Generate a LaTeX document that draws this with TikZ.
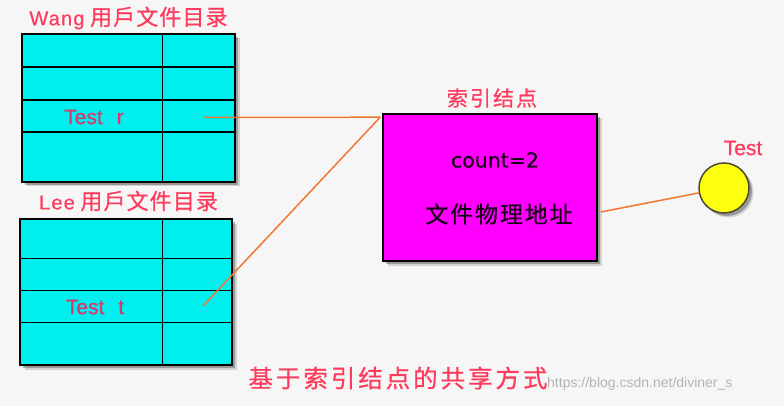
\documentclass[tikz,border=0pt]{standalone}
\usepackage{fontspec}
\setmainfont[FakeBold=0.5]{Liberation Sans}
\newfontfamily\cjk[FakeBold=0.6]{Noto Sans CJK SC}
\newfontfamily\labfont[LetterSpace=6,FakeBold=0.5]{Liberation Sans}
\newfontfamily\cntfont[FakeBold=0.4]{DejaVu Sans}
\usetikzlibrary{shadows,calc}
\definecolor{bg}{HTML}{F6F6F6}
\definecolor{cyanbox}{HTML}{00F0F0}
\definecolor{magbox}{HTML}{FF00FF}
\definecolor{ball}{HTML}{FFFF10}
\definecolor{lbl}{HTML}{FF3A5C}
\definecolor{celltxt}{HTML}{D03C6E}
\definecolor{wire}{HTML}{F07830}
\definecolor{wm}{HTML}{B4B4B4}
\begin{document}
\begin{tikzpicture}[x=1pt,y=-1pt,
  boxshadow/.style={
    drop shadow={shadow xshift=4.5pt,shadow yshift=-4.5pt,opacity=0.15,fill=black},
    drop shadow={shadow xshift=3pt,shadow yshift=-3pt,opacity=0.35,fill=black!80}},
  tablebox/.style={draw=black,line width=1.6pt,fill=cyanbox,inner sep=0pt,boxshadow},
  gridline/.style={draw=black,line width=1.4pt},
  lbltext/.style={text=lbl,inner sep=0pt,font=\fontsize{20}{20}\selectfont},
  celltext/.style={text=celltxt,inner sep=0pt,font=\fontsize{21}{21}\selectfont},
  wireline/.style={draw=wire,line width=1.5pt}
]
\useasboundingbox (0,0) rectangle (784,406);
\fill[bg] (0,0) rectangle (784,406);

% Wang table
\node[tablebox,minimum width=213pt,minimum height=148pt] (wang) at (128.5,108) {};
\draw[gridline] ($(wang.north west)+(141,0)$) -- ($(wang.south west)+(141,0)$);
\draw[gridline] ($(wang.north west)+(0,34)$) -- ($(wang.north east)+(0,34)$);
\draw[gridline] ($(wang.north west)+(0,67)$) -- ($(wang.north east)+(0,67)$);
\draw[gridline] ($(wang.north west)+(0,99)$) -- ($(wang.north east)+(0,99)$);
\node[celltext] (testr) at (94,117) {Test\hspace{14pt}r};
\coordinate (wangptr) at (203,117.5);
\node[lbltext] (wanglbl) at (128.5,18) {{\labfont Wang} {\fontsize{22}{22}\selectfont\cjk\addfontfeatures{LetterSpace=5}用戶文件目录}};

% Lee table
\node[tablebox,minimum width=212pt,minimum height=146pt] (lee) at (126,292) {};
\draw[gridline] ($(lee.north west)+(143,0)$) -- ($(lee.south west)+(143,0)$);
\draw[gridline] ($(lee.north west)+(0,40)$) -- ($(lee.north east)+(0,40)$);
\draw[gridline] ($(lee.north west)+(0,72)$) -- ($(lee.north east)+(0,72)$);
\draw[gridline] ($(lee.north west)+(0,104)$) -- ($(lee.north east)+(0,104)$);
\node[celltext] (testt) at (95,307) {Test\hspace{14pt}t};
\coordinate (leeptr) at (203,306);
\node[lbltext] (leelbl) at (128.5,201) {{\labfont Lee} {\fontsize{22}{22}\selectfont\cjk\addfontfeatures{LetterSpace=5}用戶文件目录}};

% index node
\node[draw=black,line width=1.6pt,fill=magbox,inner sep=0pt,minimum width=214pt,minimum height=147pt,boxshadow] (idx) at (490,187.5) {};
\node[inner sep=0pt,text=black!90!magbox,font=\fontsize{20.5}{20.5}\selectfont\cntfont] (count) at (495,160) {count=2};
\node[inner sep=0pt,text=black!90!magbox,font=\fontsize{23}{23}\selectfont\cjk\addfontfeatures{LetterSpace=8}] (addr) at (499,214) {文件物理地址};
\node[lbltext,font=\fontsize{21}{21}\selectfont\cjk\addfontfeatures{LetterSpace=10}] (idxlbl) at (492,98) {索引结点};
\coordinate (hub) at ($(idx.north west)+(-2,4)$);
\coordinate (idxout) at ($(idx.east)+(3,24.5)$);

% file ball
\node[circle,draw=black!60!olive,line width=1.5pt,fill=ball,minimum size=50pt,inner sep=0pt,boxshadow] (ball) at (724,188) {};
\node[lbltext,font=\fontsize{21}{21}\selectfont] (balllbl) at (743,148) {Test};

% connectors
\draw[wireline] (wangptr) -- (hub);
\draw[wireline] (leeptr) -- (hub);
\draw[wireline] (idxout) -- (ball);

% caption
\node[inner sep=0pt,text=lbl,font=\fontsize{24.5}{24.5}\selectfont\cjk\addfontfeatures{LetterSpace=12}] (title) at (398,378) {基于索引结点的共享方式};
\node[inner sep=0pt,text=wm,font=\fontsize{14}{14}\selectfont\addfontfeatures{FakeBold=0}] (watermark) at (547,384) [anchor=west] {https://blog.csdn.net/diviner\_s};
\end{tikzpicture}
\end{document}
